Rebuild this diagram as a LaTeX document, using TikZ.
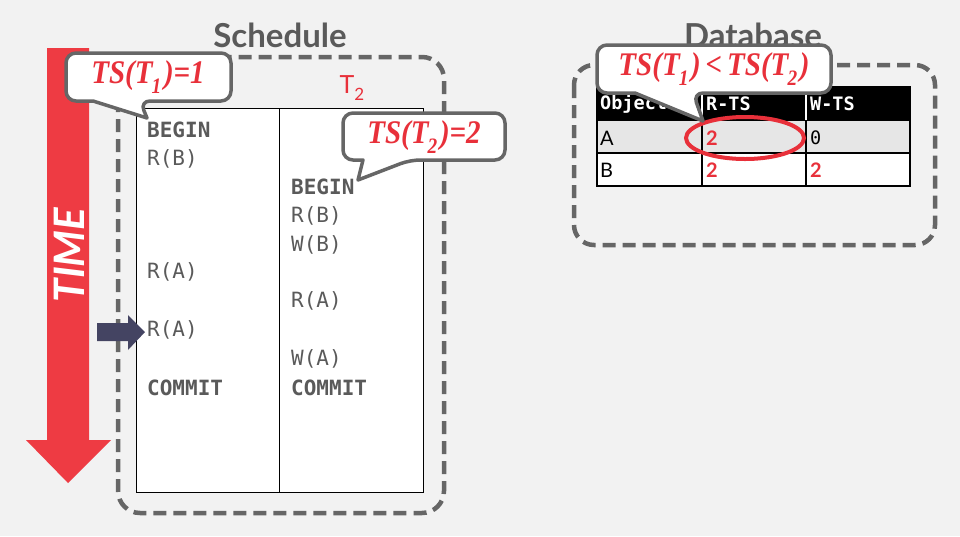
\documentclass[tikz,border=0pt]{standalone}
\usepackage{fontspec}
\setmainfont{Lato}
\setmonofont{DejaVu Sans Mono}
\newfontfamily\tsfont{Liberation Serif}
\definecolor{bgc}{HTML}{F2F2F2}
\definecolor{dashgrey}{HTML}{666666}
\definecolor{txtgrey}{HTML}{5A5A5A}
\definecolor{timered}{HTML}{EE3B43}
\definecolor{tsred}{HTML}{E8303A}
\definecolor{darkarr}{HTML}{444462}
\definecolor{rowgrey}{HTML}{E6E6E6}
\newcommand{\tssub}[1]{\kern-1pt\raisebox{-0.28em}{\fontsize{22}{22}\selectfont #1}\kern3pt}
\begin{document}
\begin{tikzpicture}[x=1pt,y=-1pt,
  dashbox/.style={draw=dashgrey,line width=4.5pt,dash pattern=on 13pt off 7pt,rounded corners=22pt},
  sched/.style={anchor=west,inner sep=0pt,text=txtgrey,font=\ttfamily\fontsize{21}{21}\selectfont},
  schedb/.style={sched,font=\ttfamily\bfseries\fontsize{21}{21}\selectfont},
  title/.style={text=txtgrey,font=\bfseries\fontsize{33}{33}\selectfont},
  tstext/.style={text=tsred,font=\tsfont\bfseries\itshape\fontsize{33}{33}\selectfont,inner sep=0pt},
  callout/.style={draw=dashgrey,fill=white,line width=3.5pt,line join=round},
  hdr/.style={anchor=west,inner sep=0pt,text=white,font=\ttfamily\bfseries\fontsize{18.5}{18.5}\selectfont},
  cell/.style={anchor=west,inner sep=0pt,font=\fontsize{20}{20}\selectfont},
  cellm/.style={anchor=west,inner sep=0pt,font=\ttfamily\fontsize{18.5}{18.5}\selectfont}
]
\fill[bgc] (0,0) rectangle (960,536);
\useasboundingbox (0,0) rectangle (960,536);

% titles
\node[title] (schedtitle) at (280,35) {Schedule};
\node[title] (dbtitle) at (753,35) {Database};

% TIME arrow
\fill[timered] (47,48) -- (89,48) -- (89,440) -- (111,440) -- (68,483) -- (26,440) -- (47,440) -- cycle;
\node[rotate=90,text=white,font=\bfseries\itshape\fontsize{42}{42}\selectfont,inner sep=0pt] (time) at (69,255) {TIME};

% schedule box
\draw[dashbox] (118,57) rectangle (444,513);
\draw[black,line width=1pt,fill=white] (136,108) rectangle (423,492);
\draw[black,line width=1pt] (279,108) -- (279,492);
\node[text=tsred,font=\fontsize{25}{25}\selectfont,inner sep=0pt] (t2) at (352,88) {T\raisebox{-0.3em}{\fontsize{17}{17}\selectfont 2}};

% left column
\node[schedb] (l1) at (147,130) {BEGIN};
\node[sched] (l2) at (147,159) {R(B)};
\node[sched] (l3) at (147,272) {R(A)};
\node[sched] (l4) at (147,330) {R(A)};
\node[schedb] (l5) at (147,388) {COMMIT};
% right column
\node[schedb] (r1) at (291,187) {BEGIN};
\node[sched] (r2) at (291,216) {R(B)};
\node[sched] (r3) at (291,245) {W(B)};
\node[sched] (r4) at (291,301) {R(A)};
\node[sched] (r5) at (291,359) {W(A)};
\node[schedb] (r6) at (291,388) {COMMIT};

% dark pointer arrow
\fill[darkarr] (97,323) -- (128,323) -- (128,315) -- (145,332) -- (128,350) -- (128,341) -- (97,341) -- cycle;

% database box
\draw[dashbox,rounded corners=20pt] (574,65) rectangle (935,245);
\fill[black] (597,87) rectangle (910,120);
\fill[rowgrey] (597,120) rectangle (910,153);
\fill[white] (597,153) rectangle (910,186);
\draw[black,line width=1.3pt] (597,87) rectangle (910,186);
\draw[black,line width=1.3pt] (597,120) -- (910,120) (597,153) -- (910,153)
  (702,87) -- (702,186) (806,87) -- (806,186);
\draw[white,line width=1.3pt] (702,87) -- (702,120) (806,87) -- (806,120);
\node[hdr] (hobj) at (600,104) {Object};
\node[hdr] (hrts) at (706,104) {R-TS};
\node[hdr] (hwts) at (810,104) {W-TS};
\node[cell] (ca) at (600,138) {A};
\node[cell,text=tsred,font=\bfseries\fontsize{20}{20}\selectfont] (car) at (706,138) {2};
\node[cellm] (caw) at (810,138) {0};
\node[cell] (cb) at (600,170) {B};
\node[cell,text=tsred,font=\bfseries\fontsize{20}{20}\selectfont] (cbr) at (706,170) {2};
\node[cell,text=tsred,font=\bfseries\fontsize{20}{20}\selectfont] (cbw) at (810,170) {2};
\draw[tsred,line width=4pt] (745,138) ellipse [x radius=59, y radius=21];

% callout 1
\draw[callout] (93,101) [rounded corners=10pt] -- (66,101) -- (66,53) -- (231,53) -- (231,101) -- (140,101) [sharp corners] -- (147,118) -- cycle;
\node[tstext] (c1) at (148,77) {\scalebox{0.88}[1]{TS(T\tssub{1})=1}};
% callout 2
\draw[callout] (363,160) [rounded corners=10pt] -- (343,160) -- (343,113) -- (505,113) -- (505,160) -- (410,160) [sharp corners] -- (358,180) -- cycle;
\node[tstext] (c2) at (424,137) {\scalebox{0.88}[1]{TS(T\tssub{2})=2}};
% callout 3
\draw[callout] (635,93) [rounded corners=10pt] -- (597,93) -- (597,45) -- (831,45) -- (831,93) -- (693,93) [sharp corners] -- (703,121) -- cycle;
\node[tstext] (c3) at (714,69) {\scalebox{0.88}[1]{TS(T\tssub{1})\,<\,TS(T\tssub{2})}};
\end{tikzpicture}
\end{document}
